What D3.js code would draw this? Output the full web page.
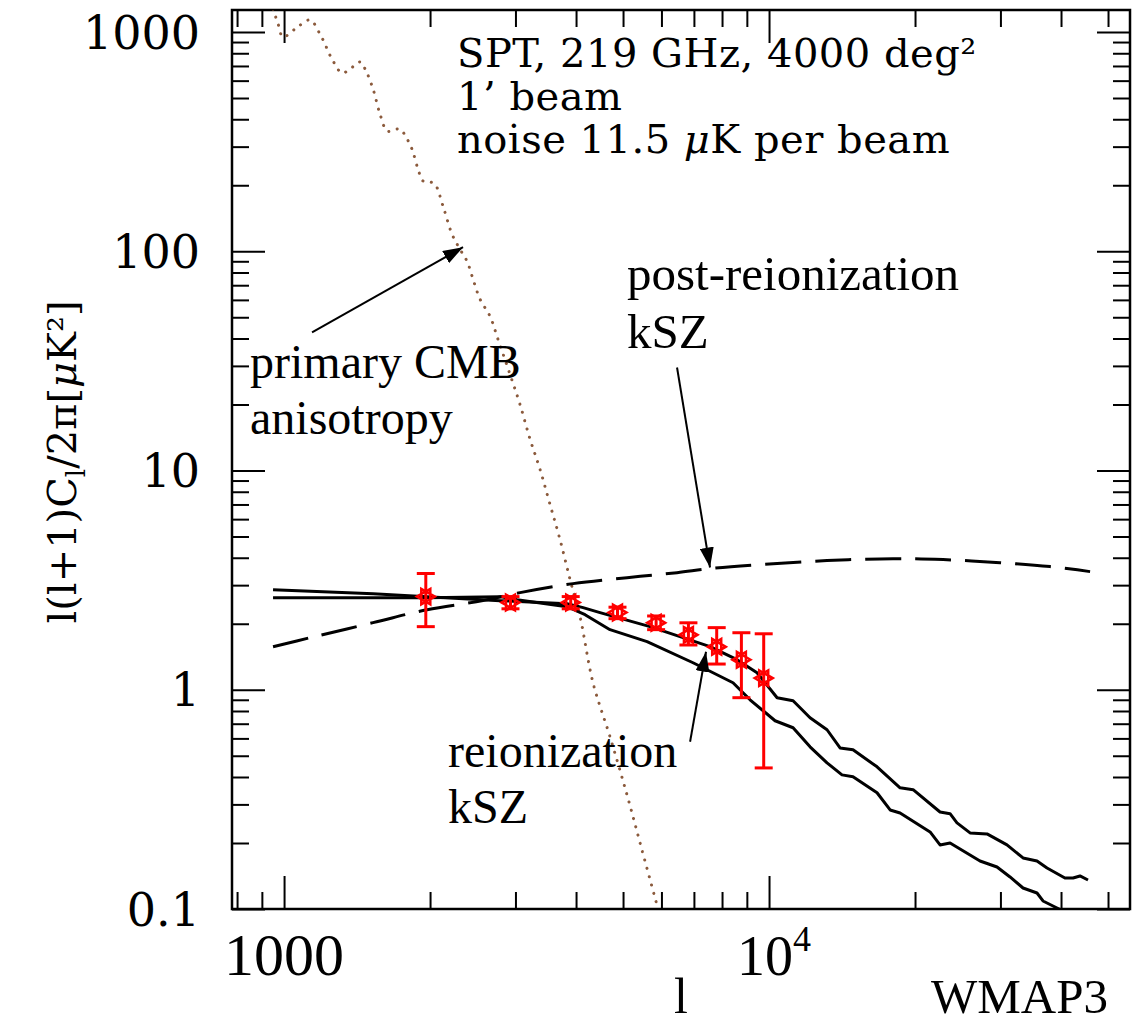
<!DOCTYPE html>
<html>
<head>
<meta charset="utf-8">
<script src="https://cdn.jsdelivr.net/npm/d3@7"></script>
<style>
  body { margin: 0; background: #fff; }
  svg { display: block; }
</style>
</head>
<body>
<svg id="chart"></svg>
<script>
// primary CMB anisotropy (dotted)
const cmbL = [949, 972, 995, 1054, 1131, 1186, 1262, 1317, 1368, 1435, 1476, 1526, 1577, 1631, 1678, 1734,
  1784, 1836, 1889, 1935, 2000, 2048, 2127, 2220, 2306, 2384, 2453, 2536, 2659, 2762, 2924, 3066, 3215,
  3372, 3535, 3707, 3888, 4077, 4336, 4700, 5096, 5470, 5904];
const cmbD = [1274, 1088, 949, 1032, 1134, 979, 737, 650, 678, 730, 663, 549, 422, 353, 357, 361,
  332, 292, 237, 209, 207, 202, 160.6, 119.6, 102, 90, 74.5, 60.4, 50.5, 39.6, 27.4, 20.0, 13.9,
  10.1, 7.0, 4.84, 3.18, 2.15, 1.076, 0.61, 0.331, 0.186, 0.1];

// post-reionization kSZ (dashed)
const postL = [949, 1131, 1526, 1972, 2572, 3066, 3944, 5096, 6461, 7556, 9581, 13170, 18020, 22850, 29950, 37970, 45920];
const postD = [1.572, 1.727, 2.023, 2.319, 2.55, 2.773, 3.048, 3.246, 3.42, 3.568, 3.722, 3.882, 3.963, 3.923, 3.80, 3.645, 3.458];

// reionization kSZ, two models (solid)
const reionAL = [949, 1526, 1972, 2788, 3832, 4136, 4482, 5683, 7556, 8591, 9447, 10390, 11210, 12150, 13170,
  14010, 14900, 16700, 18630, 19820, 22520, 23620, 24410, 25970, 28150, 30950, 33400, 35690, 37430, 40750,
  42350, 43770, 45470];
const reionAD = [2.861, 2.744, 2.659, 2.549, 2.470, 2.368, 2.247, 1.940, 1.572, 1.371, 1.196, 0.919, 0.891, 0.745, 0.657,
  0.543, 0.532, 0.445, 0.357, 0.350, 0.277, 0.272, 0.247, 0.2223, 0.220, 0.196, 0.171, 0.1656, 0.1539, 0.1385,
  0.1385, 0.1415, 0.1356];
const reionBL = [949, 1972, 2788, 3023, 3832, 4175, 4700, 5604, 6971, 8428, 9138, 10290, 11210, 12150, 13170,
  14140, 14900, 16700, 17770, 18630, 21480, 22520, 23620, 27230, 29520, 31400, 33400, 35690, 36720, 38510,
  40750, 43770, 45470];
const reionBD = [2.631, 2.631, 2.659, 2.576, 2.393, 2.200, 1.879, 1.657, 1.328, 1.076, 0.900, 0.722, 0.671, 0.549, 0.464,
  0.409, 0.401, 0.339, 0.283, 0.274, 0.2246, 0.196, 0.200, 0.1656, 0.1555, 0.140, 0.1247, 0.1183, 0.1088, 0.1032,
  0.0969, 0.0969, 0.0910];

// SPT forecast band powers with errors
const ptL = [1960, 2930, 3900, 4870, 5850, 6820, 7800, 8770, 9750];
const ptD = [2.66, 2.50, 2.50, 2.25, 2.02, 1.78, 1.57, 1.37, 1.13];
const ptLo = [1.94, 2.34, 2.34, 2.11, 1.88, 1.60, 1.31, 0.92, 0.44];
const ptHi = [3.39, 2.66, 2.66, 2.38, 2.17, 2.02, 1.92, 1.82, 1.80];

// ticks
const xMajor = [1000, 10000];
const xMinor = [800, 900, 2000, 3000, 4000, 5000, 6000, 7000, 8000, 9000, 20000, 30000, 40000, 50000];
const yMajor = [0.1, 1, 10, 100, 1000];
const yMinor = [];
[0.1, 1, 10, 100].forEach(d => { for (let k = 2; k <= 9; k++) yMinor.push(+(d * k).toPrecision(2)); });
const yLabels = ["0.1", "1", "10", "100", "1000"];

// arrows: [fromL, fromD, toL, toD]
const arrows = [
  [1142, 42.7, 2339, 104.3],
  [6461, 29.5, 7556, 3.61],
  [6874, 0.579, 7413, 1.491]
];

const WIDTH = 1134, HEIGHT = 1026;
const X0 = 232, X1 = 1130, Y0 = 10, Y1 = 909;

const svg = d3.select("#chart").attr("width", WIDTH).attr("height", HEIGHT);
svg.append("rect").attr("width", WIDTH).attr("height", HEIGHT).attr("fill", "#fff");

const x = d3.scaleLog().domain([781, 55500]).range([X0, X1]);
const y = d3.scaleLog().domain([0.1, 1260]).range([Y1, Y0]);

svg.append("defs").call(defs => {
  defs.append("clipPath").attr("id", "clip")
    .append("rect").attr("x", X0).attr("y", Y0).attr("width", X1 - X0).attr("height", Y1 - Y0);
  defs.append("marker").attr("id", "head")
    .attr("viewBox", "0 0 20 14").attr("refX", 20).attr("refY", 7)
    .attr("markerWidth", 20).attr("markerHeight", 14).attr("markerUnits", "userSpaceOnUse")
    .attr("orient", "auto")
    .append("path").attr("d", "M0,0L20,7L0,14Z").attr("fill", "#000");
});

// ticks on all four sides, pointing in
const axes = [
  [() => d3.axisTop(x), `translate(0,${Y1})`, xMajor, xMinor],
  [() => d3.axisBottom(x), `translate(0,${Y0})`, xMajor, xMinor],
  [() => d3.axisRight(y), `translate(${X0},0)`, yMajor, yMinor],
  [() => d3.axisLeft(y), `translate(${X1},0)`, yMajor, yMinor]
];
axes.forEach(([make, tr, maj, min]) => {
  [[maj, 33], [min, 17]].forEach(([vals, size]) => {
    const g = svg.append("g").attr("transform", tr)
      .call(make().tickValues(vals).tickSize(size).tickFormat(""));
    g.select(".domain").remove();
    g.selectAll("line").attr("stroke", "#000").attr("stroke-width", 2);
  });
});

svg.append("rect").attr("x", X0).attr("y", Y0).attr("width", X1 - X0).attr("height", Y1 - Y0)
  .attr("fill", "none").attr("stroke", "#000").attr("stroke-width", 2.5);

// tick labels
svg.append("g").selectAll("text").data(yMajor).join("text")
  .attr("x", 200).attr("y", d => y(d)).attr("dy", "0.36em")
  .attr("text-anchor", "end")
  .attr("font-family", "DejaVu Serif").attr("font-size", 46).attr("fill", "#000")
  .text((d, i) => yLabels[i]);

svg.append("text").attr("x", x(1000)).attr("y", 975).attr("text-anchor", "middle")
  .attr("font-family", "Liberation Serif").attr("font-size", 60).text("1000");
svg.append("text").attr("x", x(10000) - 32).attr("y", 975).attr("text-anchor", "start")
  .attr("font-family", "Liberation Serif").attr("font-size", 56)
  .call(t => {
    t.append("tspan").text("10");
    t.append("tspan").attr("font-size", 36).attr("dy", -24).text("4");
  });

svg.append("text").attr("x", 681).attr("y", 1013).attr("text-anchor", "middle")
  .attr("font-family", "Liberation Serif").attr("font-size", 50).text("l");
svg.append("text").attr("x", 1108).attr("y", 1013).attr("text-anchor", "end")
  .attr("font-family", "Liberation Serif").attr("font-size", 49).text("WMAP3");

// y axis title
svg.append("text")
  .attr("transform", "translate(76,462) rotate(-90)")
  .attr("text-anchor", "middle")
  .attr("font-family", "DejaVu Serif").attr("font-size", 40).attr("fill", "#000")
  .call(t => {
    t.append("tspan").text("l(l+1)C");
    t.append("tspan").attr("font-size", 26).attr("dy", 9).text("l");
    t.append("tspan").attr("dy", -9).text("/2\u03c0[");
    t.append("tspan").attr("font-style", "italic").text("\u03bc");
    t.append("tspan").text("K\u00b2]");
  });

// curves
const plot = svg.append("g").attr("clip-path", "url(#clip)");
const line = d3.line().x(d => x(d[0])).y(d => y(d[1]));
const smooth = d3.line().curve(d3.curveCatmullRom).x(d => x(d[0])).y(d => y(d[1]));
const zip = (a, b) => a.map((v, i) => [v, b[i]]);

plot.append("path").datum(zip(cmbL, cmbD)).attr("d", smooth)
  .attr("fill", "none").attr("stroke", "#8b5a3c").attr("stroke-width", 3)
  .attr("stroke-linecap", "round").attr("stroke-dasharray", "0.1 8.5");

plot.append("path").datum(zip(postL, postD)).attr("d", smooth)
  .attr("fill", "none").attr("stroke", "#000").attr("stroke-width", 3)
  .attr("stroke-dasharray", "36 14");

[[reionAL, reionAD], [reionBL, reionBD]].forEach(([l, d]) => {
  plot.append("path").datum(zip(l, d)).attr("d", line)
    .attr("fill", "none").attr("stroke", "#000").attr("stroke-width", 3).attr("stroke-linejoin", "round");
});

// error bars and markers
const pts = ptL.map((l, i) => ({ l, d: ptD[i], lo: ptLo[i], hi: ptHi[i] }));
const eb = plot.append("g").attr("stroke", "#f00").attr("stroke-width", 3).attr("fill", "none");
eb.selectAll(".v").data(pts).join("line").attr("class", "v")
  .attr("x1", d => x(d.l)).attr("x2", d => x(d.l)).attr("y1", d => y(d.lo)).attr("y2", d => y(d.hi));
eb.selectAll(".cl").data(pts).join("line").attr("class", "cl")
  .attr("x1", d => x(d.l) - 9).attr("x2", d => x(d.l) + 9).attr("y1", d => y(d.lo)).attr("y2", d => y(d.lo));
eb.selectAll(".ch").data(pts).join("line").attr("class", "ch")
  .attr("x1", d => x(d.l) - 9).attr("x2", d => x(d.l) + 9).attr("y1", d => y(d.hi)).attr("y2", d => y(d.hi));

const starPath = r => {
  const tri = a0 => d3.range(3).map(k => {
    const a = a0 + k * 2 * Math.PI / 3;
    return [r * Math.cos(a), r * Math.sin(a)];
  });
  return "M" + tri(0).join("L") + "Z" + "M" + tri(Math.PI).join("L") + "Z";
};
eb.selectAll("path").data(pts).join("path")
  .attr("transform", d => `translate(${x(d.l)},${y(d.d)})`)
  .attr("d", starPath(9)).attr("stroke-width", 2.5);

// annotations
svg.append("g").selectAll("line").data(arrows).join("line")
  .attr("x1", d => x(d[0])).attr("y1", d => y(d[1]))
  .attr("x2", d => x(d[2])).attr("y2", d => y(d[3]))
  .attr("stroke", "#000").attr("stroke-width", 2).attr("marker-end", "url(#head)");

const note = (tx, ty, lines, font, size, lh) => {
  svg.append("text").attr("font-family", font).attr("font-size", size).attr("fill", "#000")
    .selectAll("tspan").data(lines).join("tspan")
    .attr("x", tx).attr("y", (d, i) => ty + i * lh).text(d => d);
};
note(250, 378, ["primary CMB", "anisotropy"], "Liberation Serif", 48, 56);
note(627, 290, ["post-reionization", "kSZ"], "Liberation Serif", 49, 58);
note(448, 767, ["reionization", "kSZ"], "Liberation Serif", 48, 56);

const spt = svg.append("text").attr("font-family", "DejaVu Serif").attr("font-size", 40)
  .attr("letter-spacing", 0.5).attr("fill", "#000");
spt.append("tspan").attr("x", 457).attr("y", 67).text("SPT, 219 GHz, 4000 deg\u00b2");
spt.append("tspan").attr("x", 457).attr("y", 110).text("1\u2019 beam");
spt.append("tspan").attr("x", 457).attr("y", 153).text("noise 11.5 ")
  .append("tspan").attr("font-style", "italic").text("\u03bc");
spt.append("tspan").text("K per beam");
</script>
</body>
</html>
